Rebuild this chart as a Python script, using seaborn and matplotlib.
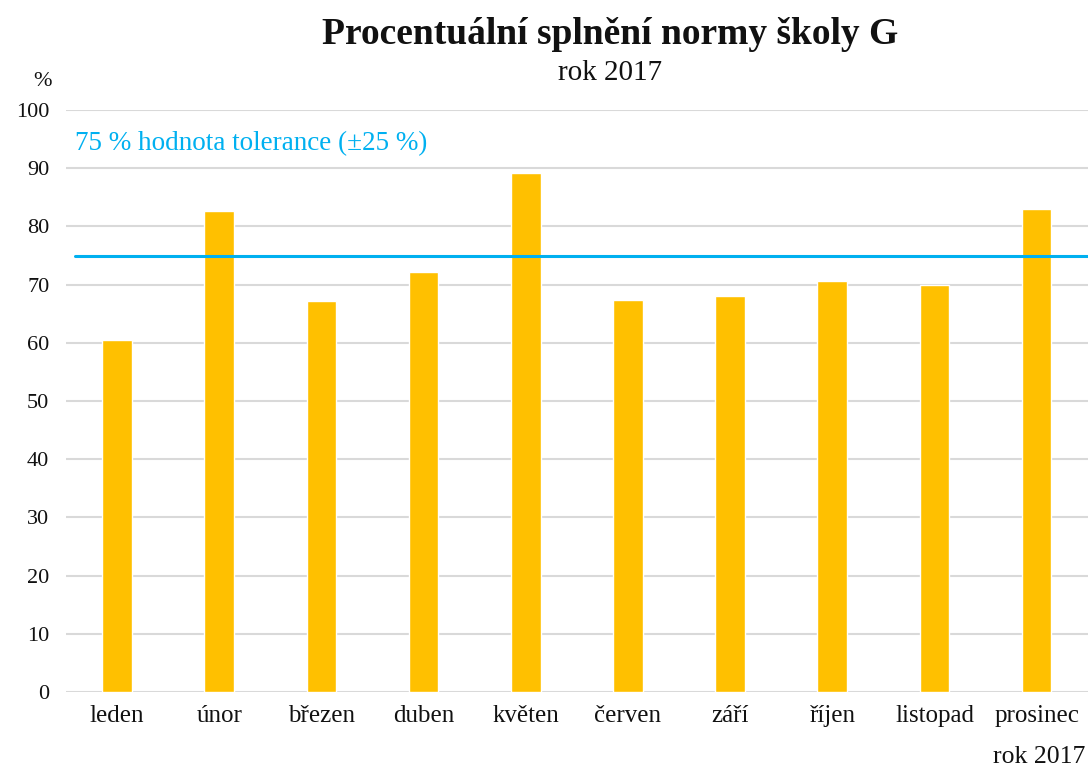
import matplotlib
matplotlib.use("Agg")
import matplotlib.pyplot as plt
import seaborn as sns
import pandas as pd

months = ["leden", "únor", "březen", "duben", "květen", "červen",
          "září", "říjen", "listopad", "prosinec"]
values = [60.4, 82.6, 67.1, 72.1, 89.1, 67.3, 68.0, 70.6, 70.0, 83.0]
threshold = 75
yticks = [0, 10, 20, 30, 40, 50, 60, 70, 80, 90, 100]

sns.set_theme(style="white")
plt.rcParams["font.family"] = ["Liberation Serif", "DejaVu Serif"]

df = pd.DataFrame({"mesic": months, "procento": values})

fig = plt.figure(figsize=(10.91, 7.72), dpi=100)
ax = fig.add_axes([0.0605, 0.1036, 0.9365, 0.7539])

sns.barplot(data=df, x="mesic", y="procento", color="#FFC000",
            saturation=1, width=0.29, ax=ax, zorder=3)

ax.set_ylim(0, 100)
ax.set_xlim(-0.5, len(months) - 0.5)
ax.set_yticks(yticks)
ax.yaxis.grid(True, color="#D9D9D9", linewidth=1.5, zorder=0)
ax.set_axisbelow(True)
for s in ax.spines.values():
    s.set_visible(False)
ax.tick_params(axis="y", labelsize=16, length=0, pad=12, colors="#111111")
ax.tick_params(axis="x", labelsize=18, length=0, pad=9, colors="#111111")
ax.set_xlabel("")
ax.set_ylabel("")

# tolerance line
ax.axhline(threshold, xmin=0.009, xmax=1, color="#00B0F0", linewidth=2.2, zorder=4)
ax.text(-0.41, 94.3, "75 % hodnota tolerance (±25 %)", color="#00B0F0",
        fontsize=19.5, va="center", ha="left")

fig.text(0.559, 0.955, "Procentuální splnění normy školy G", ha="center",
         va="center", fontsize=27, fontweight="bold", color="#111111")
fig.text(0.559, 0.905, "rok 2017", ha="center", va="center",
         fontsize=21, color="#111111")
fig.text(0.039, 0.895, "%", ha="center", va="center", fontsize=16, color="#111111")
fig.text(0.995, 0.02, "rok 2017", ha="right", va="center", fontsize=18.5,
         color="#111111")

fig.savefig("out.png", dpi=100)
